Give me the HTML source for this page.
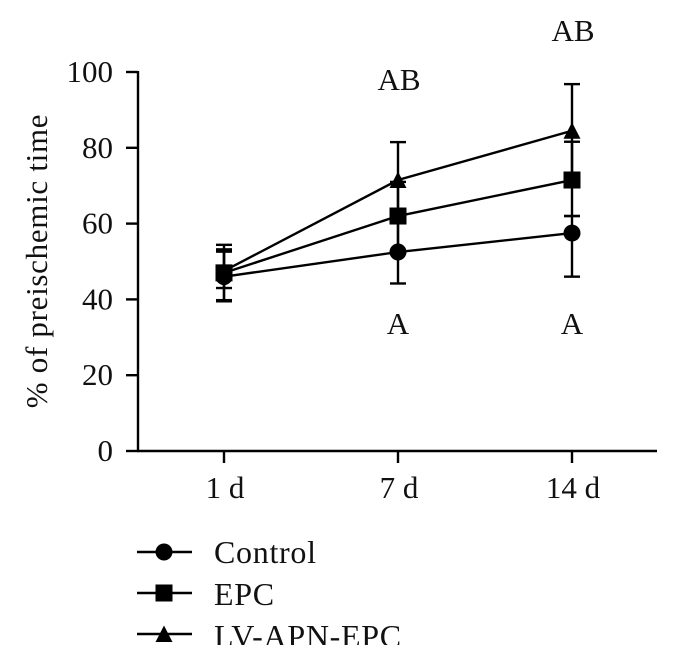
<!DOCTYPE html>
<html>
<head>
<meta charset="utf-8">
<style>
html,body{margin:0;padding:0;background:#fff;width:679px;height:667px;overflow:hidden}
svg{display:block}
text{font-family:"Liberation Serif",serif;fill:#111}
</style>
</head>
<body>
<svg id="chart" width="679" height="667" viewBox="0 0 679 667"></svg>
<script>
const categories = ['1 d', '7 d', '14 d'];
const yTicks = [0, 20, 40, 60, 80, 100];
const seriesNames = ['Control', 'EPC', 'LV-APN-EPC'];
const controlValues = [46, 52.5, 57.5];
const epcValues = [47, 62, 71.5];
const lvValues = [47.5, 71.5, 84.5];
const controlLow = [39.5, 44.2, 46];
const controlHigh = [52.6, 60.8, 62];
const epcLow = [43, 53, 62];
const epcHigh = [53.2, 71, 81.6];
const lvLow = [39.8, 61.5, 72.2];
const lvHigh = [54.4, 81.5, 96.8];
const annotations = [['AB', 1, 'above'], ['A', 1, 'below'], ['AB', 2, 'above'], ['A', 2, 'below']];

const svgNS = 'http://www.w3.org/2000/svg';
const svg = document.getElementById('chart');
const xScale = i => 224 + i * 174;
const yScale = v => 451 - v * 3.79;

function add(tag, attrs, parent) {
  const el = document.createElementNS(svgNS, tag);
  for (const k in attrs) el.setAttribute(k, attrs[k]);
  (parent || svg).appendChild(el);
  return el;
}
function line(x1, y1, x2, y2, w, parent) {
  return add('line', {x1, y1, x2, y2, stroke: '#000', 'stroke-width': w || 2.4}, parent);
}
function label(str, x, y, size, anchor, spacing, parent) {
  const t = add('text', {x, y, 'font-size': size, 'text-anchor': anchor || 'middle', 'letter-spacing': spacing || 0}, parent);
  t.textContent = str;
  return t;
}
function marker(kind, x, y, parent) {
  if (kind === 0) return add('circle', {cx: x, cy: y, r: 8.5}, parent);
  if (kind === 1) return add('rect', {x: x - 8.5, y: y - 8.5, width: 17, height: 17}, parent);
  return add('polygon', {points: (x) + ',' + (y - 8.5) + ' ' + (x + 8.5) + ',' + (y + 8) + ' ' + (x - 8.5) + ',' + (y + 8)}, parent);
}

const yAxis = add('g', {});


line(138, yScale(100) - 1, 138, yScale(0) + 1, 2.4, yAxis);
yTicks.forEach(v => {
  line(126, yScale(v), 138, yScale(v), 2.4, yAxis);
  const t = label(String(v), 113, yScale(v) + 10, 31, 'end', 0, yAxis);
  
  
});
const yTitle = add('text', {x: 0, y: 0, 'font-size': 31, 'text-anchor': 'middle', 'letter-spacing': 0.7, transform: 'translate(47,261) rotate(-90)'});
yTitle.textContent = '% of preischemic time';



const xAxis = add('g', {});


line(137, yScale(0), 657, yScale(0), 2.4, xAxis);
categories.forEach((c, i) => {
  line(xScale(i), yScale(0), xScale(i), yScale(0) + 12, 2.4, xAxis);
  const t = label(c, xScale(i) + 1, 498, 31, 'middle', 0, xAxis);
  
  
});

const allValues = [controlValues, epcValues, lvValues];
const allLow = [controlLow, epcLow, lvLow];
const allHigh = [controlHigh, epcHigh, lvHigh];
allValues.forEach((vals, s) => {
  const g = add('g', {});
  
  
  vals.forEach((v, i) => {
    const x = xScale(i);
    line(x, yScale(allLow[s][i]), x, yScale(allHigh[s][i]), 2.4, g);
    line(x - 8, yScale(allLow[s][i]), x + 8, yScale(allLow[s][i]), 2.4, g);
    line(x - 8, yScale(allHigh[s][i]), x + 8, yScale(allHigh[s][i]), 2.4, g);
  });
  add('polyline', {points: vals.map((v, i) => xScale(i) + ',' + yScale(v)).join(' '), fill: 'none', stroke: '#000', 'stroke-width': 2.4}, g);
  vals.forEach((v, i) => marker(s, xScale(i), yScale(v), g));
});

annotations.forEach(a => {
  const y = a[2] === 'below' ? 334 : (a[1] === 1 ? 90 : 41);
  const t = label(a[0], xScale(a[1]) + (a[2] === 'above' ? 1 : 0), y, 31, 'middle', 0);
  
  
});

seriesNames.forEach((n, s) => {
  const g = add('g', {});
  
  
  const y = 552 + s * 41;
  line(137, y, 192, y, 2.4, g);
  marker(s, 164, y, g);
  label(n, 214, 563 + s * 42, 32, 'start', 0.7, g);
});
const mask = add('rect', {x: 0, y: 645, width: 679, height: 22, fill: '#fff'});


</script>
</body>
</html>
